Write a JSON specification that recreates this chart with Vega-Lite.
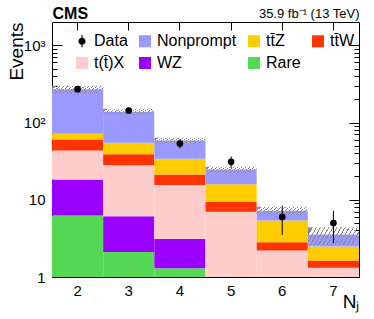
{
  "$schema": "https://vega.github.io/schema/vega-lite/v6.json",
  "width": 307,
  "height": 255,
  "autosize": {"type": "none"},
  "padding": {"left": 52, "top": 22, "right": 15, "bottom": 42},
  "background": "white",
  "config": {
    "font": "Liberation Sans",
    "view": {"stroke": "black", "strokeWidth": 1},
    "axis": {"grid": false, "domain": false, "tickColor": "black", "tickWidth": 1, "labelColor": "black", "titleColor": "black", "labelFont": "Liberation Sans", "titleFont": "Liberation Sans", "titleFontWeight": "normal"}
  },
  "datasets": {
    "mc": [
      {"Nj": 2, "process": "Rare", "rank": 1, "events": 6.25},
      {"Nj": 2, "process": "WZ", "rank": 2, "events": 12},
      {"Nj": 2, "process": "t(t̄)X", "rank": 3, "events": 25},
      {"Nj": 2, "process": "tt̄W", "rank": 4, "events": 17},
      {"Nj": 2, "process": "tt̄Z", "rank": 5, "events": 11},
      {"Nj": 2, "process": "Nonprompt", "rank": 6, "events": 198},
      {"Nj": 3, "process": "Rare", "rank": 1, "events": 2.1},
      {"Nj": 3, "process": "WZ", "rank": 2, "events": 4.0},
      {"Nj": 3, "process": "t(t̄)X", "rank": 3, "events": 21.8},
      {"Nj": 3, "process": "tt̄W", "rank": 4, "events": 10.9},
      {"Nj": 3, "process": "tt̄Z", "rank": 5, "events": 15.7},
      {"Nj": 3, "process": "Nonprompt", "rank": 6, "events": 83},
      {"Nj": 4, "process": "Rare", "rank": 1, "events": 1.3},
      {"Nj": 4, "process": "WZ", "rank": 2, "events": 1.8},
      {"Nj": 4, "process": "t(t̄)X", "rank": 3, "events": 12.4},
      {"Nj": 4, "process": "tt̄W", "rank": 4, "events": 5.8},
      {"Nj": 4, "process": "tt̄Z", "rank": 5, "events": 12.7},
      {"Nj": 4, "process": "Nonprompt", "rank": 6, "events": 24.4},
      {"Nj": 5, "process": "Rare", "rank": 1, "events": 0.5},
      {"Nj": 5, "process": "WZ", "rank": 2, "events": 0.4},
      {"Nj": 5, "process": "t(t̄)X", "rank": 3, "events": 6.1},
      {"Nj": 5, "process": "tt̄W", "rank": 4, "events": 2.35},
      {"Nj": 5, "process": "tt̄Z", "rank": 5, "events": 6.5},
      {"Nj": 5, "process": "Nonprompt", "rank": 6, "events": 8.7},
      {"Nj": 6, "process": "Rare", "rank": 1, "events": 0.3},
      {"Nj": 6, "process": "WZ", "rank": 2, "events": 0.2},
      {"Nj": 6, "process": "t(t̄)X", "rank": 3, "events": 1.7},
      {"Nj": 6, "process": "tt̄W", "rank": 4, "events": 0.62},
      {"Nj": 6, "process": "tt̄Z", "rank": 5, "events": 2.57},
      {"Nj": 6, "process": "Nonprompt", "rank": 6, "events": 1.8},
      {"Nj": 7, "process": "Rare", "rank": 1, "events": 0.2},
      {"Nj": 7, "process": "WZ", "rank": 2, "events": 0.1},
      {"Nj": 7, "process": "t(t̄)X", "rank": 3, "events": 1.02},
      {"Nj": 7, "process": "tt̄W", "rank": 4, "events": 0.31},
      {"Nj": 7, "process": "tt̄Z", "rank": 5, "events": 0.85},
      {"Nj": 7, "process": "Nonprompt", "rank": 6, "events": 1.06}
    ],
    "bins": [
      {"Nj": 2, "data": 270, "data_lo": 254, "data_hi": 286, "unc_lo": 240, "unc_hi": 298},
      {"Nj": 3, "data": 143, "data_lo": 131, "data_hi": 155, "unc_lo": 126, "unc_hi": 151},
      {"Nj": 4, "data": 53.4, "data_lo": 46, "data_hi": 61, "unc_lo": 54, "unc_hi": 63.5},
      {"Nj": 5, "data": 31, "data_lo": 25.8, "data_hi": 36.4, "unc_lo": 22.3, "unc_hi": 26.8},
      {"Nj": 6, "data": 6.0, "data_lo": 3.5, "data_hi": 8.4, "unc_lo": 6.4, "unc_hi": 8.1},
      {"Nj": 7, "data": 5.0, "data_lo": 2.74, "data_hi": 7.2, "unc_lo": 2.6, "unc_hi": 4.4}
    ]
  },
  "layer": [
    {
      "data": {"name": "mc"},
      "mark": {"type": "bar", "strokeWidth": 0},
      "encoding": {
        "x": {"field": "Nj", "type": "ordinal", "scale": {"paddingInner": 0, "paddingOuter": 0},
          "axis": {"orient": "bottom", "labelAngle": 0, "labelFontSize": 15, "tickSize": -7, "labelPadding": 13, "title": "Nⱼ", "titleFontSize": 19, "titleX": 307, "titleY": 30, "titleAlign": "right", "titleBaseline": "alphabetic", "titleAnchor": "end"}},
        "y": {"field": "events", "type": "quantitative", "stack": "zero",
          "scale": {"type": "log", "domain": [1, 2000], "clamp": true, "nice": false},
          "axis": {"orient": "left", "values": [1, 10, 100, 1000], "labelExpr": "datum.value == 1 ? '1' : datum.value == 10 ? '10' : datum.value == 100 ? '10²' : '10³'", "tickSize": -10, "labelPadding": 17, "labelFontSize": 15, "title": "Events", "titleFontSize": 19, "titleX": -30, "titleY": 0, "titleAngle": 270, "titleAlign": "right", "titleBaseline": "alphabetic"}},
        "color": {"field": "process", "type": "nominal",
          "scale": {"domain": ["Data", "Nonprompt", "tt̄Z", "tt̄W", "t(t̄)X", "WZ", "Rare"], "range": ["#000000", "#9999ff", "#ffcc00", "#ff3300", "#ffcccc", "#9900ff", "#55d955"]},
          "legend": {"title": null, "orient": "none", "legendX": 22, "legendY": 11, "direction": "horizontal", "columns": 4, "columnPadding": 8, "rowPadding": 4, "symbolType": "square", "symbolSize": 144, "symbolStrokeWidth": 0, "labelFontSize": 16, "labelFont": "Liberation Sans", "labelOffset": 4, "labelColor": "black", "padding": 0, "labelLimit": 200,
            "encode": {"symbols": {"update": {
              "shape": [{"test": "datum.value === 'Data'", "value": "M-0.5,0A0.5,0.5,0,1,1,0.5,0A0.5,0.5,0,1,1,-0.5,0ZM0,-1L0,1"}, {"value": "square"}],
              "stroke": [{"test": "datum.value === 'Data'", "value": "black"}, {"value": "transparent"}],
              "strokeWidth": {"value": 1.2}
            }}}}},
        "order": {"field": "rank", "type": "quantitative"}
      }
    },
    {
      "data": {"name": "bins"},
      "mark": {"type": "bar", "strokeWidth": 0,
        "fill": {"gradient": "linear", "x1": 0, "y1": 0.4, "x2": 1, "y2": 0.6, "stops": [
          {"offset": 0, "color": "#8a8a8a"}, {"offset": 0.02, "color": "#8a8a8a"}, {"offset": 0.02, "color": "rgba(255,255,255,0)"}, {"offset": 0.0769, "color": "rgba(255,255,255,0)"},
          {"offset": 0.0769, "color": "#8a8a8a"}, {"offset": 0.0969, "color": "#8a8a8a"}, {"offset": 0.0969, "color": "rgba(255,255,255,0)"}, {"offset": 0.1538, "color": "rgba(255,255,255,0)"},
          {"offset": 0.1538, "color": "#8a8a8a"}, {"offset": 0.1738, "color": "#8a8a8a"}, {"offset": 0.1738, "color": "rgba(255,255,255,0)"}, {"offset": 0.2308, "color": "rgba(255,255,255,0)"},
          {"offset": 0.2308, "color": "#8a8a8a"}, {"offset": 0.2508, "color": "#8a8a8a"}, {"offset": 0.2508, "color": "rgba(255,255,255,0)"}, {"offset": 0.3077, "color": "rgba(255,255,255,0)"},
          {"offset": 0.3077, "color": "#8a8a8a"}, {"offset": 0.3277, "color": "#8a8a8a"}, {"offset": 0.3277, "color": "rgba(255,255,255,0)"}, {"offset": 0.3846, "color": "rgba(255,255,255,0)"},
          {"offset": 0.3846, "color": "#8a8a8a"}, {"offset": 0.4046, "color": "#8a8a8a"}, {"offset": 0.4046, "color": "rgba(255,255,255,0)"}, {"offset": 0.4615, "color": "rgba(255,255,255,0)"},
          {"offset": 0.4615, "color": "#8a8a8a"}, {"offset": 0.4815, "color": "#8a8a8a"}, {"offset": 0.4815, "color": "rgba(255,255,255,0)"}, {"offset": 0.5385, "color": "rgba(255,255,255,0)"},
          {"offset": 0.5385, "color": "#8a8a8a"}, {"offset": 0.5585, "color": "#8a8a8a"}, {"offset": 0.5585, "color": "rgba(255,255,255,0)"}, {"offset": 0.6154, "color": "rgba(255,255,255,0)"},
          {"offset": 0.6154, "color": "#8a8a8a"}, {"offset": 0.6354, "color": "#8a8a8a"}, {"offset": 0.6354, "color": "rgba(255,255,255,0)"}, {"offset": 0.6923, "color": "rgba(255,255,255,0)"},
          {"offset": 0.6923, "color": "#8a8a8a"}, {"offset": 0.7123, "color": "#8a8a8a"}, {"offset": 0.7123, "color": "rgba(255,255,255,0)"}, {"offset": 0.7692, "color": "rgba(255,255,255,0)"},
          {"offset": 0.7692, "color": "#8a8a8a"}, {"offset": 0.7892, "color": "#8a8a8a"}, {"offset": 0.7892, "color": "rgba(255,255,255,0)"}, {"offset": 0.8462, "color": "rgba(255,255,255,0)"},
          {"offset": 0.8462, "color": "#8a8a8a"}, {"offset": 0.8662, "color": "#8a8a8a"}, {"offset": 0.8662, "color": "rgba(255,255,255,0)"}, {"offset": 0.9231, "color": "rgba(255,255,255,0)"},
          {"offset": 0.9231, "color": "#8a8a8a"}, {"offset": 0.9431, "color": "#8a8a8a"}, {"offset": 0.9431, "color": "rgba(255,255,255,0)"}, {"offset": 1, "color": "rgba(255,255,255,0)"}
        ]}},
      "encoding": {
        "x": {"field": "Nj", "type": "ordinal", "scale": {"paddingInner": 0, "paddingOuter": 0},
          "axis": {"orient": "top", "labels": false, "tickSize": -8, "title": "35.9 fb⁻¹ (13 TeV)", "titleFontSize": 13, "titleX": 307, "titleY": -5, "titleAlign": "right", "titleBaseline": "alphabetic"}},
        "y": {"field": "unc_lo", "type": "quantitative",
          "scale": {"type": "log", "domain": [1, 2000], "clamp": true, "nice": false},
          "axis": {"orient": "right", "values": [1, 10, 100, 1000], "labels": false, "tickSize": -10, "title": null}},
        "y2": {"field": "unc_hi"}
      }
    },
    {
      "data": {"name": "bins"},
      "mark": {"type": "rule", "color": "black", "strokeWidth": 1},
      "encoding": {
        "x": {"field": "Nj", "type": "ordinal", "scale": {"paddingInner": 0, "paddingOuter": 0},
          "axis": {"orient": "top", "labels": false, "ticks": false, "title": "CMS", "titleFontSize": 16, "titleFontWeight": "bold", "titleX": 0, "titleY": -4, "titleAlign": "left", "titleBaseline": "alphabetic"}},
        "y": {"field": "data_lo", "type": "quantitative",
          "scale": {"type": "log", "domain": [1, 2000], "clamp": true, "nice": false},
          "axis": {"orient": "left", "values": [2, 3, 4, 5, 6, 7, 8, 9, 20, 30, 40, 50, 60, 70, 80, 90, 200, 300, 400, 500, 600, 700, 800, 900], "labels": false, "tickSize": -5, "title": null}},
        "y2": {"field": "data_hi"}
      }
    },
    {
      "data": {"name": "bins"},
      "mark": {"type": "point", "filled": true, "color": "black", "size": 45, "opacity": 1},
      "encoding": {
        "x": {"field": "Nj", "type": "ordinal", "scale": {"paddingInner": 0, "paddingOuter": 0}, "axis": null},
        "y": {"field": "data", "type": "quantitative",
          "scale": {"type": "log", "domain": [1, 2000], "clamp": true, "nice": false},
          "axis": {"orient": "right", "values": [2, 3, 4, 5, 6, 7, 8, 9, 20, 30, 40, 50, 60, 70, 80, 90, 200, 300, 400, 500, 600, 700, 800, 900], "labels": false, "tickSize": -5, "title": null}}
      }
    }
  ],
  "resolve": {"axis": {"x": "independent", "y": "independent"}}
}
